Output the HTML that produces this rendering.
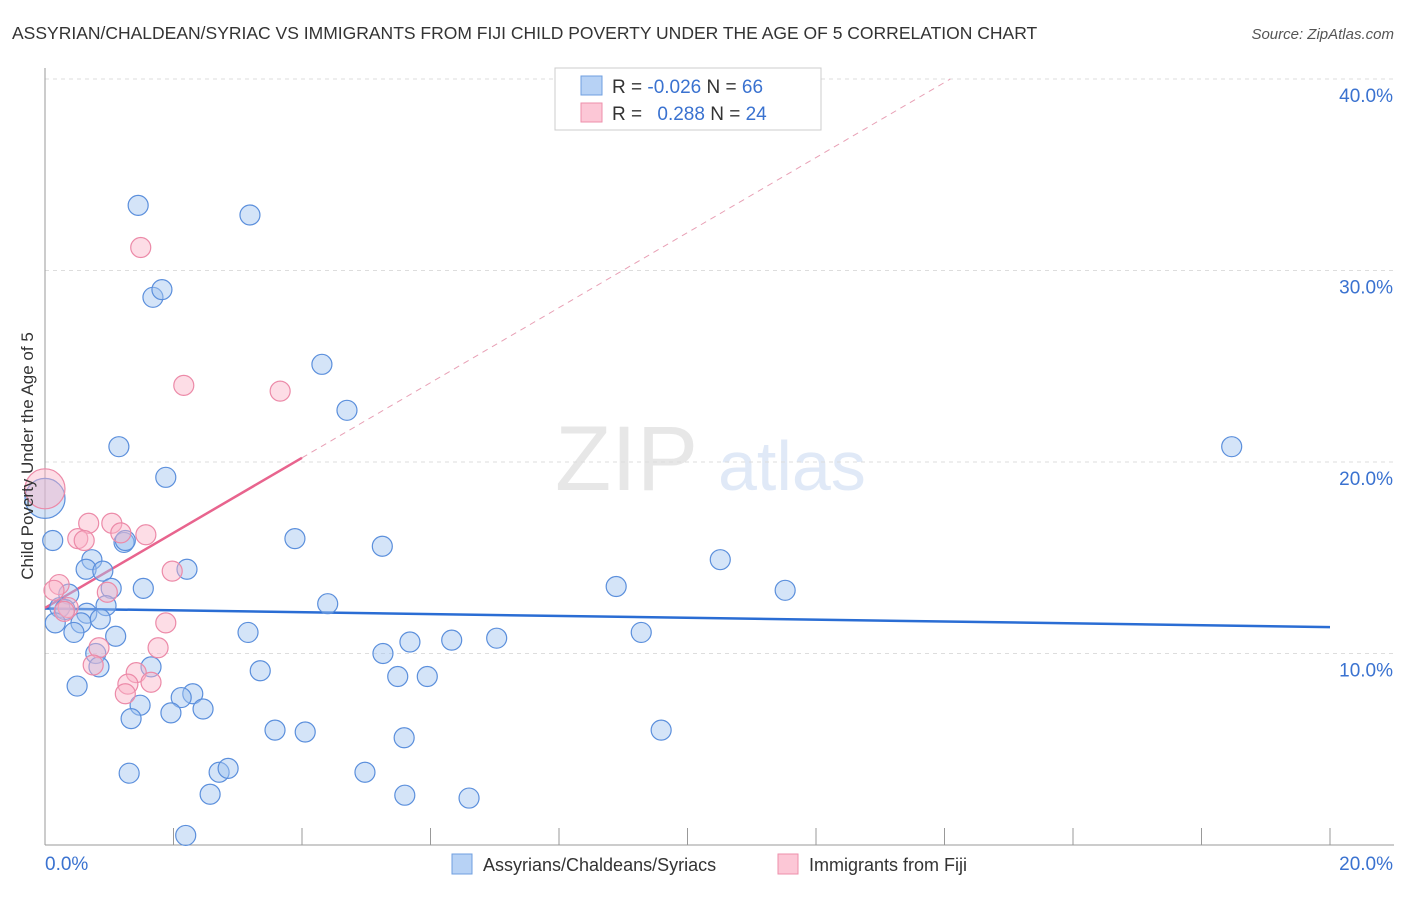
<!DOCTYPE html>
<html><head><meta charset="utf-8"><style>
body{margin:0;background:#fff;font-family:"Liberation Sans",sans-serif}
svg text{font-family:"Liberation Sans",sans-serif}
</style></head><body>
<svg id="chart" width="1406" height="892" viewBox="0 0 1406 892" xmlns="http://www.w3.org/2000/svg">
<text x="12" y="39" font-size="17.5" fill="#333">ASSYRIAN/CHALDEAN/SYRIAC VS IMMIGRANTS FROM FIJI CHILD POVERTY UNDER THE AGE OF 5 CORRELATION CHART</text>
<text x="1394" y="39" font-size="15" fill="#555" font-style="italic" text-anchor="end">Source: ZipAtlas.com</text>
<g opacity="0.35">
<text x="555" y="490" font-size="92" fill="#bbb" font-family="Liberation Serif,serif">ZIP</text>
<text x="718" y="490" font-size="70" fill="#a9c3ea">atlas</text>
</g>
<g id="grid"></g><g id="axes"></g><g id="lines"></g><g id="pts"></g>
<text transform="translate(33,456) rotate(-90)" font-size="17" fill="#333" text-anchor="middle">Child Poverty Under the Age of 5</text>
<g>
<rect x="555" y="68" width="266" height="62" fill="#fff" stroke="#ccc"/>
<rect x="581" y="76" width="21" height="19" fill="#b7d2f5" stroke="#6f9fe0"/>
<rect x="581" y="103" width="21" height="19" fill="#fcc7d6" stroke="#ee8fab"/>
<text x="612" y="93" font-size="19" fill="#333">R = <tspan fill="#3a72d0">-0.026</tspan>   N = <tspan fill="#3a72d0">66</tspan></text>
<text x="612" y="120" font-size="19" fill="#333">R = <tspan fill="#3a72d0" dx="10">0.288</tspan>   N = <tspan fill="#3a72d0">24</tspan></text>
</g>
<g>
<rect x="452" y="854" width="20" height="20" fill="#b7d2f5" stroke="#6f9fe0"/>
<text x="483" y="871" font-size="18" fill="#333">Assyrians/Chaldeans/Syriacs</text>
<rect x="778" y="854" width="20" height="20" fill="#fcc7d6" stroke="#ee8fab"/>
<text x="809" y="871" font-size="18" fill="#333">Immigrants from Fiji</text>
</g>
</svg>
<script>
const yTicks=[10,20,30,40];
const yTickLabels=["10.0%","20.0%","30.0%","40.0%"];
const xTickLabels=["0.0%","20.0%"];
const blueX=[1.45,3.19,1.68,1.82,4.31,4.7,1.15,1.88,18.47,0,0.12,1.23,1.25,3.89,5.25,0.73,0.64,0.9,2.21,10.51,8.89,11.52,1.03,1.53,0.37,0.23,0.31,0.95,0.65,4.4,0.56,0.16,0.45,1.1,3.16,9.28,5.68,6.33,7.03,5.26,0.79,0.84,1.65,3.35,5.49,5.95,0.5,2.3,2.12,1.48,2.46,1.34,1.96,3.58,4.05,9.59,5.59,1.31,2.71,2.85,4.98,2.57,5.6,6.6,2.19,0.86];
const blueY=[33.4,32.9,28.6,29.0,25.1,22.7,20.8,19.2,20.8,18.1,15.9,15.8,15.9,16.0,15.6,14.9,14.4,14.3,14.4,14.9,13.5,13.3,13.4,13.4,13.1,12.4,12.3,12.5,12.1,12.6,11.6,11.6,11.1,10.9,11.1,11.1,10.6,10.7,10.8,10.0,10.0,9.3,9.3,9.1,8.8,8.8,8.3,7.9,7.7,7.3,7.1,6.6,6.9,6.0,5.9,6.0,5.6,3.75,3.8,4.0,3.8,2.65,2.6,2.45,0.5,11.8];
const blueR=[10,10,10,10,10,10,10,10,10,20,10,10,10,10,10,10,10,10,10,10,10,10,10,10,10,10,10,10,10,10,10,10,10,10,10,10,10,10,10,10,10,10,10,10,10,10,10,10,10,10,10,10,10,10,10,10,10,10,10,10,10,10,10,10,10,10];
const pinkX=[0,1.49,2.16,3.66,0.68,1.04,0.51,0.61,1.18,1.57,1.98,0.22,0.14,0.97,0.36,0.3,1.88,0.84,1.76,0.75,1.42,1.29,1.65,1.25];
const pinkY=[18.6,31.2,24.0,23.7,16.8,16.8,16.0,15.9,16.3,16.2,14.3,13.6,13.3,13.2,12.4,12.2,11.6,10.3,10.3,9.4,9.0,8.4,8.5,7.9];
const pinkR=[20,10,10,10,10,10,10,10,10,10,10,10,10,10,10,10,10,10,10,10,10,10,10,10];
const blueTrend=[12.35,11.38];
const pinkTrend=[12.38,1.96];
const X=v=>45+v*64.25, Y=v=>845-v*19.15;
const NS="http://www.w3.org/2000/svg";
function mk(tag,a,parent){const e=document.createElementNS(NS,tag);for(const k in a)e.setAttribute(k,a[k]);document.getElementById(parent).appendChild(e);return e;}
yTicks.forEach((t,i)=>{
 const g=mk('line',{x1:45,x2:1394,y1:Y(t),y2:Y(t),stroke:'#ddd','stroke-dasharray':'4,4'},'grid');
 
 
 const l=mk('text',{x:1393,y:Y(t)+23,'font-size':19,fill:'#3a72d0','text-anchor':'end'},'axes');
 l.textContent=yTickLabels[i];
 
 
});
const ya=mk('line',{x1:45,x2:45,y1:68,y2:845,stroke:'#999'},'axes');


const xa=mk('line',{x1:45,x2:1394,y1:845,y2:845,stroke:'#999'},'axes');


for(let v=0;v<=20;v+=2){const t=mk('line',{x1:X(v),x2:X(v),y1:828,y2:845,stroke:'#999'},'axes');
 
 }
[[0,45,'start'],[20,1393,'end']].forEach((d,i)=>{const t=mk('text',{x:d[1],y:870,'font-size':19,fill:'#3a72d0','text-anchor':d[2]},'axes');t.textContent=xTickLabels[i];
 
 });
const bl=mk('line',{x1:X(0),y1:Y(blueTrend[0]),x2:X(20),y2:Y(blueTrend[1]),stroke:'#2a6dd4','stroke-width':2.5},'lines');


const pl=mk('line',{x1:X(0),y1:Y(pinkTrend[0]),x2:X(4),y2:Y(pinkTrend[0]+4*pinkTrend[1]),stroke:'#e8648e','stroke-width':2.5},'lines');


const xe=(40-pinkTrend[0])/pinkTrend[1];
const pd=mk('line',{x1:X(4),y1:Y(pinkTrend[0]+4*pinkTrend[1]),x2:X(xe),y2:Y(40),stroke:'#e8a0b5','stroke-width':1,'stroke-dasharray':'6,5'},'lines');


blueX.forEach((v,i)=>{const c=mk('circle',{cx:X(v),cy:Y(blueY[i]),r:blueR[i],fill:'rgba(160,195,240,0.45)',stroke:'#5b8fdc','stroke-width':1.2},'pts');
 
 });
pinkX.forEach((v,i)=>{const c=mk('circle',{cx:X(v),cy:Y(pinkY[i]),r:pinkR[i],fill:'rgba(250,180,200,0.45)',stroke:'#ec8aa8','stroke-width':1.2},'pts');
 
 });
</script>
</body></html>
